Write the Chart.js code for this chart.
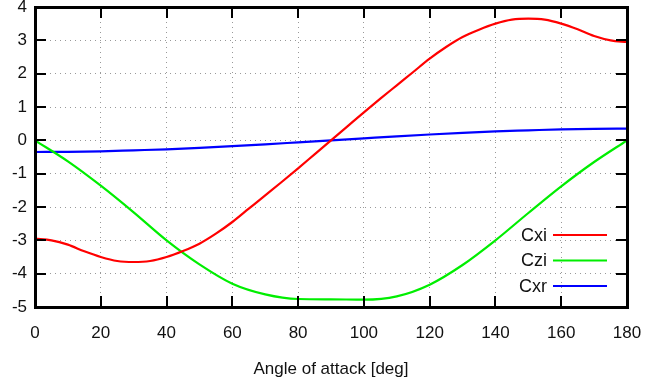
<!DOCTYPE html>
<html>
<head>
<meta charset="utf-8">
<script src="https://cdn.jsdelivr.net/npm/chart.js@4"></script>
<style>
  html, body { margin: 0; padding: 0; background: #fff; }
  #wrap { width: 646px; height: 392px; }
</style>
</head>
<body>
<div id="wrap"><canvas id="canvas-1"></canvas></div>
<script>
// angle of attack samples [deg]
var angles5 = [0, 5, 10, 15, 20, 25, 30, 35, 40, 45, 50, 55, 60, 65, 70, 75, 80, 85, 90,
  95, 100, 105, 110, 115, 120, 125, 130, 135, 140, 145, 150, 155, 160, 165, 170, 175, 180];
var angles10 = [0, 10, 20, 30, 40, 50, 60, 70, 80, 90, 100, 110, 120, 130, 140, 150, 160, 170, 180];

var cxi = [-2.95, -3.0, -3.13, -3.33, -3.5, -3.62, -3.65, -3.62, -3.5, -3.32, -3.1, -2.8, -2.45,
  -2.05, -1.65, -1.25, -0.84, -0.42, 0, 0.42, 0.84, 1.25, 1.65, 2.05, 2.45, 2.8, 3.1, 3.32, 3.5,
  3.62, 3.65, 3.62, 3.5, 3.33, 3.13, 3.0, 2.95];
var czi = [0, -0.63, -1.36, -2.16, -3.0, -3.72, -4.3, -4.62, -4.76, -4.77, -4.78, -4.68, -4.33,
  -3.74, -3.0, -2.18, -1.38, -0.65, 0];
var cxr = [-0.35, -0.345, -0.33, -0.3, -0.27, -0.225, -0.175, -0.12, -0.06, 0, 0.06, 0.12,
  0.175, 0.225, 0.27, 0.3, 0.33, 0.345, 0.35];

var seriesNames = ['Cxi', 'Czi', 'Cxr'];
var seriesColors = ['#ff0000', '#00ee00', '#0000ff'];
var xTitle = 'Angle of attack [deg]';

var FONT = 'Liberation Sans, Arial, sans-serif';

function pts(xs, ys) {
  return xs.map(function (x, i) { return { x: x, y: ys[i] }; });
}

// gnuplot-like frame: thick border and inward ticks on all four sides
var gnuFrame = {
  id: 'gnuFrame',
  afterDraw: function (chart) {
    var ctx = chart.ctx;
    var a = chart.chartArea;
    var xs = chart.scales.x;
    var ys = chart.scales.y;
    var len = 11;
    var l = Math.round(a.left), r = Math.round(a.right);
    var t = Math.round(a.top), b = Math.round(a.bottom);
    ctx.save();
    ctx.globalAlpha = 1;
    ctx.fillStyle = '#000';
    xs.ticks.forEach(function (tk) {
      var px = Math.round(xs.getPixelForValue(tk.value));
      ctx.fillRect(px - 1, b - len, 2, len);
      ctx.fillRect(px - 1, t, 2, len);
    });
    ys.ticks.forEach(function (tk) {
      var py = Math.round(ys.getPixelForValue(tk.value));
      ctx.fillRect(l, py - 1, len, 2);
      ctx.fillRect(r - len, py - 1, len, 2);
    });
    ctx.fillRect(l - 1, t - 1, r - l + 3, 3);
    ctx.fillRect(l - 1, b - 1, r - l + 3, 3);
    ctx.fillRect(l - 1, t - 1, 3, b - t + 3);
    ctx.fillRect(r - 1, t - 1, 3, b - t + 3);
    ctx.restore();
  }
};

// legend in lower right: label right-aligned, then a line sample
var gnuKey = {
  id: 'gnuKey',
  afterDatasetsDraw: function (chart) {
    var ctx = chart.ctx;
    var a = chart.chartArea;
    ctx.save();
    ctx.setLineDash([]);
    ctx.font = '18px ' + FONT;
    ctx.textAlign = 'right';
    ctx.textBaseline = 'middle';
    chart.data.datasets.forEach(function (ds, i) {
      var y = a.bottom - 72 + i * 25.5;
      var x1 = a.right - 20;
      var x0 = x1 - 54;
      ctx.fillStyle = '#111';
      ctx.fillText(ds.label, x0 - 6, y + 1);
      ctx.strokeStyle = ds.borderColor;
      ctx.lineWidth = 2;
      ctx.beginPath();
      ctx.moveTo(x0, y); ctx.lineTo(x1, y);
      ctx.stroke();
    });
    ctx.restore();
  }
};

var lineChart = new Chart(document.getElementById('canvas-1'), {
  type: 'line',
  data: {
    datasets: [{
      label: seriesNames[0],
      data: pts(angles5, cxi),
      borderColor: seriesColors[0]
    }, {
      label: seriesNames[1],
      data: pts(angles10, czi),
      borderColor: seriesColors[1]
    }, {
      label: seriesNames[2],
      data: pts(angles10, cxr),
      borderColor: seriesColors[2]
    }]
  },
  options: {
    responsive: true,
    maintainAspectRatio: false,
    animation: false,
    devicePixelRatio: 1,
    layout: { padding: { top: 7, right: 19, left: 0, bottom: 0 } },
    elements: {
      point: { radius: 0 },
      line: { borderWidth: 2.2, cubicInterpolationMode: 'monotone', fill: false }
    },
    plugins: {
      legend: { display: false },
      tooltip: { enabled: false }
    },
    scales: {
      x: {
        type: 'linear',
        min: 0,
        max: 180,
        ticks: { stepSize: 20, color: '#111', font: { family: FONT, size: 17 }, padding: 16, maxRotation: 0 },
        grid: { color: '#999', lineWidth: 1, drawTicks: false, tickLength: 0 },
        border: { display: false, dash: [1, 4] },
        title: { display: true, text: xTitle, color: '#111', font: { family: FONT, size: 17 }, padding: { top: 0, bottom: 12 } },
        afterFit: function (s) { s.height = 85; s.paddingLeft = 0; s.paddingRight = 0; }
      },
      y: {
        min: -5,
        max: 4,
        ticks: { stepSize: 1, color: '#111', font: { family: FONT, size: 17 }, padding: 8 },
        grid: { color: '#999', lineWidth: 1, drawTicks: false, tickLength: 0 },
        border: { display: false, dash: [1, 4] },
        afterFit: function (s) { s.width = 35; s.paddingTop = 0; s.paddingBottom = 0; }
      }
    }
  },
  plugins: [gnuFrame, gnuKey]
});
</script>
</body>
</html>
